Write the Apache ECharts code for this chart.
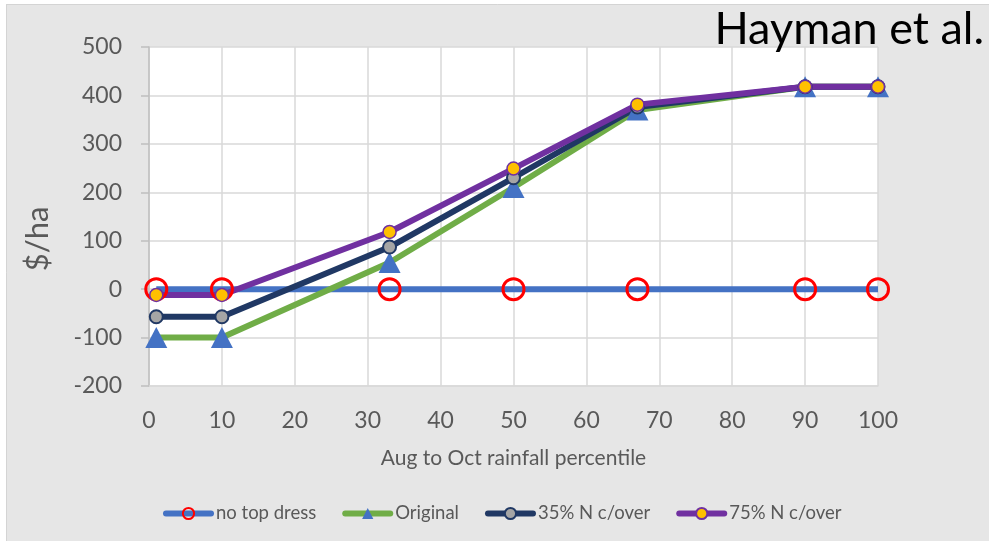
<!DOCTYPE html>
<html>
<head>
<meta charset="utf-8">
<script src="https://cdn.jsdelivr.net/npm/echarts@6/dist/echarts.min.js"></script>
<style>
  html, body { margin: 0; padding: 0; background: #ffffff; }
  #chart { width: 989px; height: 541px; }
</style>
</head>
<body>
<div id="chart"></div>
<script>
// Rainfall percentile (Aug–Oct) on the x axis
const percentiles = [1, 10, 33, 50, 67, 90, 100];
// Gross margin change ($/ha) for each strategy
const noTopDress = [0, 0, 0, 0, 0, 0, 0];
const original = [-100, -100, 55, 210, 370, 418, 418];
const nCarryover35 = [-57, -57, 87, 230, 376, 418, 418];
const nCarryover75 = [-12, -12, 118, 249, 381, 418, 418];

const seriesNames = ['no top dress', 'Original', '35% N c/over', '75% N c/over'];
const yTicks = { min: -200, max: 500, interval: 100 };
const xTicks = { min: 0, max: 100, interval: 10 };

const pairs = (ys) => percentiles.map((x, i) => [x, ys[i]]);

const FONT = 'Lato';
const TEXT = '#595959';

const chart = echarts.init(document.getElementById('chart'), null, { renderer: 'canvas' });

chart.setOption({
  animation: false,
  backgroundColor: '#e6e6e6',
  textStyle: { fontFamily: FONT },
  title: {
    text: 'Hayman et al.',
    right: 0,
    top: 2,
    textStyle: { fontFamily: FONT, fontSize: 45, fontWeight: 'normal', color: '#000000' }
  },
  graphic: [
    { type: 'rect', shape: { x: 0, y: 0, width: 6, height: 541 }, style: { fill: '#ffffff' }, silent: true },
    { type: 'rect', shape: { x: 0, y: 0, width: 989, height: 4 }, style: { fill: '#ffffff' }, silent: true },
    { type: 'line', shape: { x1: 6.5, y1: 4, x2: 6.5, y2: 541 }, style: { stroke: '#d4d4d4', lineWidth: 1 }, silent: true },
    { type: 'line', shape: { x1: 6, y1: 4.5, x2: 989, y2: 4.5 }, style: { stroke: '#d4d4d4', lineWidth: 1 }, silent: true },
    {
      type: 'text',
      x: 38, y: 239,
      rotation: Math.PI / 2,
      style: {
        text: '$/ha', fontFamily: FONT, fontSize: 31, fill: TEXT,
        align: 'center', verticalAlign: 'middle'
      },
      silent: true
    }
  ],
  legend: {
    data: seriesNames,
    left: 158,
    top: 499,
    itemWidth: 45,
    itemHeight: 14,
    itemGap: 26,
    lineStyle: { width: 6, cap: 'round' },
    textStyle: { fontFamily: FONT, fontSize: 18.5, color: TEXT }
  },
  grid: {
    left: 149, right: 111, top: 47, bottom: 155, containLabel: false,
    show: true, backgroundColor: '#ffffff', borderWidth: 0
  },
  xAxis: {
    type: 'value',
    min: xTicks.min, max: xTicks.max, interval: xTicks.interval,
    name: 'Aug to Oct rainfall percentile',
    nameLocation: 'middle',
    nameGap: 62,
    nameTextStyle: { fontFamily: FONT, fontSize: 21, color: TEXT },
    axisLine: { onZero: false, lineStyle: { color: '#d9d9d9', width: 1.5 } },
    axisTick: { show: false },
    axisLabel: { fontFamily: FONT, fontSize: 23, color: TEXT, margin: 23 },
    splitLine: { show: true, lineStyle: { color: '#d9d9d9', width: 1.5 } }
  },
  yAxis: {
    type: 'value',
    min: yTicks.min, max: yTicks.max, interval: yTicks.interval,
    axisLine: { show: true, lineStyle: { color: '#bfbfbf', width: 1.5 } },
    axisTick: { show: true, length: 8, lineStyle: { color: '#bfbfbf', width: 1.5 } },
    axisLabel: { fontFamily: FONT, fontSize: 23, color: TEXT, margin: 27 },
    splitLine: { show: true, lineStyle: { color: '#d9d9d9', width: 1.5 } }
  },
  series: [
    {
      name: seriesNames[0],
      type: 'line',
      data: pairs(noTopDress),
      symbol: 'circle',
      symbolSize: 21,
      showAllSymbol: true,
      lineStyle: { color: '#4472c4', width: 6 },
      itemStyle: { color: 'rgba(255,255,255,0)', borderColor: '#ff0000', borderWidth: 3 }
    },
    {
      name: seriesNames[1],
      type: 'line',
      data: pairs(original),
      symbol: 'triangle',
      symbolSize: [22, 21],
      showAllSymbol: true,
      lineStyle: { color: '#70ad47', width: 6 },
      itemStyle: { color: '#4472c4', borderColor: '#4472c4', borderWidth: 0 }
    },
    {
      name: seriesNames[2],
      type: 'line',
      data: pairs(nCarryover35),
      symbol: 'circle',
      symbolSize: 13,
      showAllSymbol: true,
      lineStyle: { color: '#203864', width: 6 },
      itemStyle: { color: '#a5a5a5', borderColor: '#203864', borderWidth: 2 }
    },
    {
      name: seriesNames[3],
      type: 'line',
      data: pairs(nCarryover75),
      symbol: 'circle',
      symbolSize: 13,
      showAllSymbol: true,
      lineStyle: { color: '#7030a0', width: 6 },
      itemStyle: { color: '#ffc000', borderColor: '#7030a0', borderWidth: 1.5 }
    }
  ]
});
</script>
</body>
</html>
